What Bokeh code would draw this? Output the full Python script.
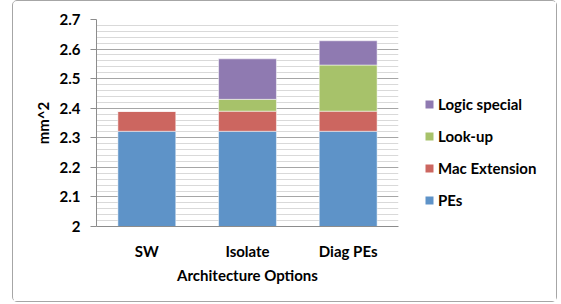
from bokeh.plotting import figure
from bokeh.layouts import row
from bokeh.models import Range1d, FactorRange, SingleIntervalTicker, CustomJSTickFormatter, Legend, LegendItem
from bokeh.embed import file_html
from bokeh.resources import INLINE

categories = ["SW", "Isolate", "Diag PEs"]
pes = [2.322, 2.322, 2.322]
mac_extension = [0.068, 0.068, 0.068]
look_up = [0.0, 0.04, 0.156]
logic_special = [0.0, 0.137, 0.082]
series_names = ["PEs", "Mac Extension", "Look-up", "Logic special"]
colors = ["#5E93C8", "#CC6660", "#A7C26A", "#8F7AB1"]

FONT = "Lato"
FS = "15px"

p = figure(x_range=FactorRange(factors=categories, range_padding=0),
           y_range=Range1d(2.0, 2.7),
           width=387, height=300, output_backend="svg", toolbar_location=None,
           min_border_left=83, min_border_right=2, min_border_top=18, min_border_bottom=75)
p.outline_line_color = None

data = {"cat": categories, "PEs": pes, "Mac Extension": mac_extension,
        "Look-up": look_up, "Logic special": logic_special}
renderers = p.vbar_stack(series_names, x="cat", width=0.575, source=data, color=colors,
                         line_color="white", line_alpha=0.5, line_width=1)

ticker = SingleIntervalTicker(interval=0.1, num_minor_ticks=5)
p.yaxis.ticker = ticker
p.ygrid.ticker = ticker
p.yaxis.formatter = CustomJSTickFormatter(code="return String(Math.round(tick*10)/10);")
p.ygrid.grid_line_color = "#a6a6a6"
p.ygrid.grid_line_width = 1
p.ygrid.minor_grid_line_color = "#d9d9d9"
p.ygrid.minor_grid_line_width = 1
p.xgrid.grid_line_color = None

for ax in (p.xaxis, p.yaxis):
    ax.axis_line_color = "#8c8c8c"
    ax.major_label_text_font = FONT
    ax.major_label_text_font_style = "bold"
    ax.major_label_text_font_size = FS
    ax.major_label_text_color = "#000000"
    ax.axis_label_text_font = FONT
    ax.axis_label_text_font_style = "bold"
    ax.axis_label_text_font_size = FS
    ax.axis_label_text_color = "#000000"
    ax.minor_tick_line_color = None

p.yaxis.major_tick_line_color = "#8c8c8c"
p.yaxis.major_tick_in = 0
p.yaxis.major_tick_out = 6
p.yaxis.major_label_standoff = 10
p.yaxis.axis_label = "mm^2"
p.yaxis.axis_label_standoff = 5

p.xaxis.major_tick_line_color = None
p.xaxis.major_tick_in = 0
p.xaxis.major_tick_out = 0
p.xaxis.major_label_standoff = 15
p.xaxis.axis_label = "Architecture Options"
p.xaxis.axis_label_standoff = 3

# legend panel (separate figure so the legend is not clipped by the plot frame);
# its series use the same data, but its ranges keep the bars out of view.
lp = figure(x_range=Range1d(100, 101), y_range=Range1d(100, 101),
            width=156, height=300, output_backend="svg", toolbar_location=None,
            x_axis_location=None, y_axis_location=None,
            min_border_left=0, min_border_right=0, min_border_top=0, min_border_bottom=0)
lp.outline_line_color = None
lp.grid.grid_line_color = None
swatches = lp.vbar_stack(series_names, x="cat", width=0.5, source=data, color=colors,
                         line_color=None)

items = [LegendItem(label=name, renderers=[r]) for name, r in zip(series_names, swatches)][::-1]
legend = Legend(items=items, location=(24, 17), padding=0, margin=0,
                border_line_color=None, background_fill_alpha=0,
                glyph_width=10, glyph_height=10, label_height=14, spacing=14,
                label_standoff=4,
                label_text_font=FONT, label_text_font_style="bold",
                label_text_font_size=FS, label_text_color="#000000")
lp.add_layout(legend, "center")

layout = row(p, lp, spacing=0,
             styles={"border": "1px solid #a6a6a6", "border-radius": "5px", "margin-left": "12px"})

open("out.html", "w").write(file_html(layout, INLINE))
